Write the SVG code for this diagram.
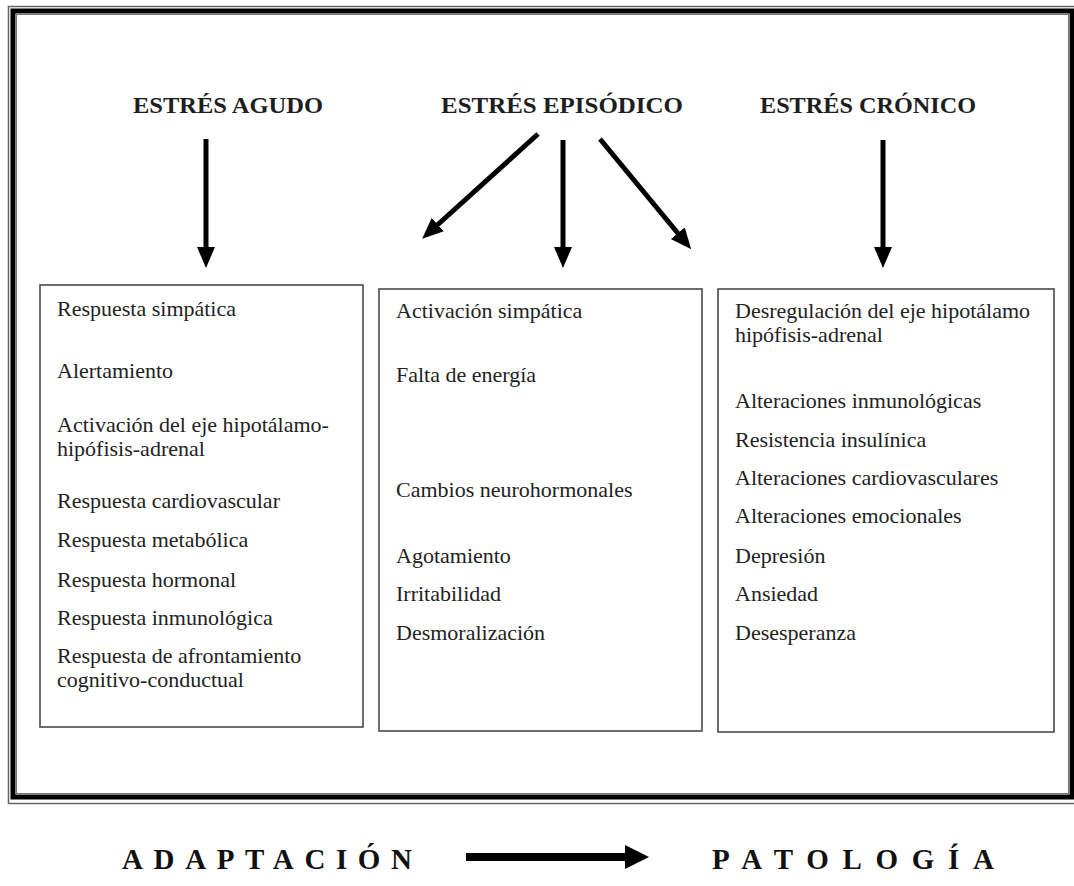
<svg xmlns="http://www.w3.org/2000/svg" width="1074" height="886" viewBox="0 0 1074 886">
  <style>
    .head { font-family: "Liberation Serif", "Times New Roman", serif; font-weight: bold; font-size: 24px; fill: #1e1e1e; }
    .item { font-family: "Liberation Serif", "Times New Roman", serif; font-size: 22px; fill: #222; }
    .foot { font-family: "Liberation Serif", "Times New Roman", serif; font-weight: bold; font-size: 29px; fill: #111; }
    .box { fill: #fff; stroke: #4a4a4a; stroke-width: 1.6; }
    .arrow { stroke: #000; stroke-width: 5; fill: none; marker-end: url(#head); }
  </style>
  <defs>
    <marker id="head" markerUnits="userSpaceOnUse" markerWidth="22" markerHeight="20" refX="5" refY="9" orient="auto">
      <path d="M0,0 L21,9 L0,18 Z" fill="#000"/>
    </marker>
  </defs>

  <rect width="1074" height="886" fill="#fff"/>

  <!-- outer frame: thin rule, heavy rule, thin rule -->
  <g id="frame" fill="none">
    <rect x="8.5" y="6.5" width="1080" height="797" stroke="#666" stroke-width="1.5"/>
    <rect x="13" y="11" width="1059" height="786" stroke="#000" stroke-width="5"/>
    <rect x="16.5" y="14.5" width="1052" height="779" stroke="#777" stroke-width="1"/>
  </g>

  <!-- column headings -->
  <g id="agudo">
    <text class="head" x="133" y="113" textLength="190" lengthAdjust="spacingAndGlyphs">ESTRÉS AGUDO</text>
  </g>
  <g id="episodico">
    <text class="head" x="441" y="113" textLength="242" lengthAdjust="spacingAndGlyphs">ESTRÉS EPISÓDICO</text>
  </g>
  <g id="cronico">
    <text class="head" x="760" y="113" textLength="216" lengthAdjust="spacingAndGlyphs">ESTRÉS CRÓNICO</text>
  </g>

  <!-- connectors -->
  <g id="connectors">
    <line class="arrow" x1="206" y1="139" x2="206" y2="252"/>
    <line class="arrow" x1="538" y1="134" x2="434" y2="228"/>
    <line class="arrow" x1="563" y1="140" x2="563" y2="252"/>
    <line class="arrow" x1="600" y1="139" x2="681" y2="237"/>
    <line class="arrow" x1="883" y1="140" x2="883" y2="252"/>
  </g>

  <!-- acute stress box -->
  <g id="box-agudo">
    <rect class="box" x="40" y="285" width="323" height="442"/>
    <text class="item" x="57" y="316">Respuesta simpática</text>
    <text class="item" x="57" y="378">Alertamiento</text>
    <text class="item" x="57" y="432">Activación del eje hipotálamo-</text>
    <text class="item" x="57" y="456">hipófisis-adrenal</text>
    <text class="item" x="57" y="508">Respuesta cardiovascular</text>
    <text class="item" x="57" y="547">Respuesta metabólica</text>
    <text class="item" x="57" y="587">Respuesta hormonal</text>
    <text class="item" x="57" y="625">Respuesta inmunológica</text>
    <text class="item" x="57" y="663">Respuesta de afrontamiento</text>
    <text class="item" x="57" y="687">cognitivo-conductual</text>
  </g>

  <!-- episodic stress box -->
  <g id="box-episodico">
    <rect class="box" x="379" y="289" width="323" height="442"/>
    <text class="item" x="396" y="318">Activación simpática</text>
    <text class="item" x="396" y="382">Falta de energía</text>
    <text class="item" x="396" y="497">Cambios neurohormonales</text>
    <text class="item" x="396" y="563">Agotamiento</text>
    <text class="item" x="396" y="601">Irritabilidad</text>
    <text class="item" x="396" y="640">Desmoralización</text>
  </g>

  <!-- chronic stress box -->
  <g id="box-cronico">
    <rect class="box" x="718" y="289" width="336" height="443"/>
    <text class="item" x="735" y="318">Desregulación del eje hipotálamo</text>
    <text class="item" x="735" y="342">hipófisis-adrenal</text>
    <text class="item" x="735" y="408">Alteraciones inmunológicas</text>
    <text class="item" x="735" y="447">Resistencia insulínica</text>
    <text class="item" x="735" y="485">Alteraciones cardiovasculares</text>
    <text class="item" x="735" y="523">Alteraciones emocionales</text>
    <text class="item" x="735" y="563">Depresión</text>
    <text class="item" x="735" y="601">Ansiedad</text>
    <text class="item" x="735" y="640">Desesperanza</text>
  </g>

  <!-- progression scale -->
  <g id="adaptacion">
    <text class="foot" x="122" y="869" textLength="290" lengthAdjust="spacing">ADAPTACIÓN</text>
  </g>
  <g id="progresion">
    <path d="M466,853 H625 V845 L649,857 L625,869 V861 H466 Z" fill="#000"/>
  </g>
  <g id="patologia">
    <text class="foot" x="712" y="869" textLength="282" lengthAdjust="spacing">PATOLOGÍA</text>
  </g>
</svg>
